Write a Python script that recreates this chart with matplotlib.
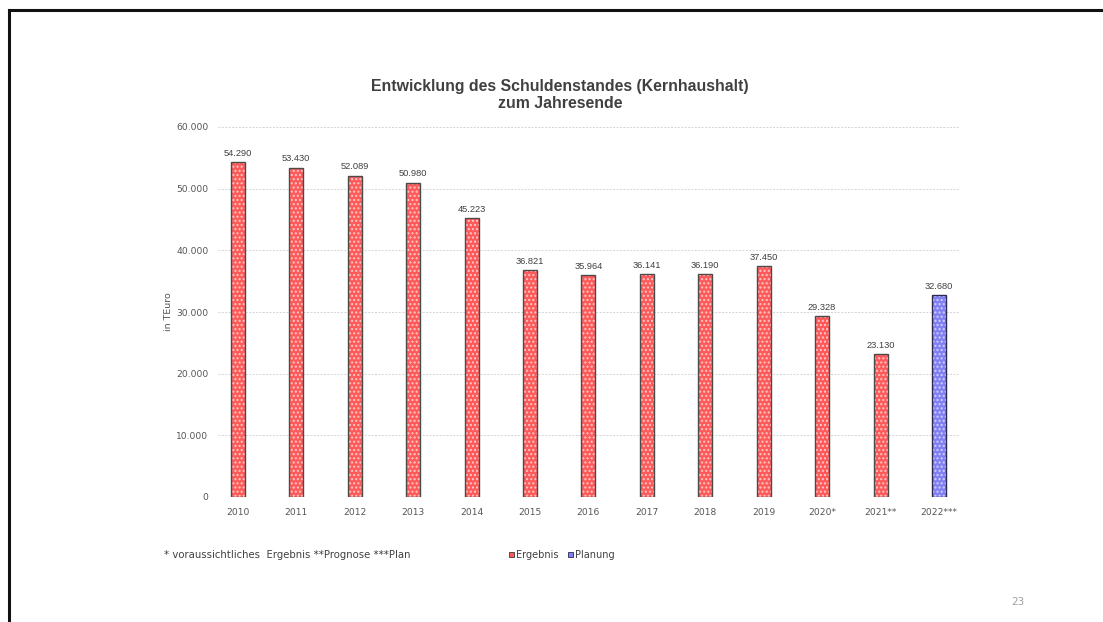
import matplotlib
matplotlib.use("Agg")
import matplotlib.pyplot as plt
from matplotlib.lines import Line2D
from matplotlib.patches import Patch
import numpy as np

plt.rcParams['font.family'] = ['DejaVu Sans']

# Schuldenstand zum Jahresende in TEuro
jahre = ["2010", "2011", "2012", "2013", "2014", "2015", "2016", "2017",
         "2018", "2019", "2020*", "2021**", "2022***"]
ergebnis = [54290, 53430, 52089, 50980, 45223, 36821, 35964, 36141,
            36190, 37450, 29328, 23130, np.nan]
planung = [np.nan] * 12 + [32680]

fig = plt.figure(figsize=(11.03, 6.22), dpi=100)
W, H = 1103, 622

# Rahmen der Folie (oben und links)
fig.add_artist(Line2D([8.5 / W, 1], [1 - 9.5 / H, 1 - 9.5 / H], color="#111111", lw=2.2))
fig.add_artist(Line2D([8.5 / W, 8.5 / W], [0, 1 - 9.5 / H], color="#111111", lw=2.2))

ax = fig.add_axes([218 / W, 1 - 497 / H, (960 - 218) / W, (497 - 127) / H])
x = np.arange(len(jahre))
bw = 0.24


def balken(werte, farbe, punkte, rand):
    ax.bar(x, werte, width=bw, color=farbe, edgecolor=punkte, hatch="....",
           linewidth=0, zorder=2)
    ax.bar(x, werte, width=bw, fill=False, edgecolor=rand, linewidth=1.0, zorder=3)


balken(ergebnis, "#ff5a5a", "#ffc8c8", "#4a4a4a")
balken(planung, "#8080f0", "#d0d0ff", "#2a2a50")

for i in range(len(jahre)):
    v = ergebnis[i] if not np.isnan(ergebnis[i]) else planung[i]
    ax.text(x[i], v + 700, f"{v:,.0f}".replace(",", "."), ha="center", va="bottom",
            fontsize=6.7, color="#404040", family="Liberation Sans")

ax.set_ylim(0, 60000)
ax.set_xlim(-0.34, 12.36)
ax.set_yticks(np.arange(0, 60001, 10000))
ax.set_yticklabels([f"{t:,}".replace(",", ".") for t in range(0, 60001, 10000)])
ax.set_xticks(x)
ax.set_xticklabels(jahre)
ax.tick_params(axis="both", length=0, labelsize=6.6, labelcolor="#555555")
ax.tick_params(axis="x", pad=8)
ax.tick_params(axis="y", pad=7)
ax.grid(axis="y", color="#d4d4d4", linestyle=(0, (2, 1.5)), linewidth=0.7, zorder=0)
for s in ax.spines.values():
    s.set_visible(False)
ax.set_ylabel("in TEuro", fontsize=6.8, color="#555555", labelpad=2)

fig.text(560 / W, 1 - 87 / H, "Entwicklung des Schuldenstandes (Kernhaushalt)",
         ha="center", va="center", fontsize=11.4, fontweight="bold", color="#404040",
         family="Liberation Sans")
fig.text(560 / W, 1 - 103 / H, "zum Jahresende",
         ha="center", va="center", fontsize=11.4, fontweight="bold", color="#404040",
         family="Liberation Sans")

fig.text(164 / W, 1 - 555 / H, "* voraussichtliches  Ergebnis **Prognose ***Plan",
         ha="left", va="center", fontsize=7.3, color="#404040")

handles = [Patch(facecolor="#ff5a5a", edgecolor="#3a3a3a", linewidth=0.6),
           Patch(facecolor="#8080f0", edgecolor="#2a2a50", linewidth=0.6)]
fig.legend(handles, ["Ergebnis", "Planung"], loc="center left",
           bbox_to_anchor=(500 / W, 1 - 555 / H), ncol=2, frameon=False,
           fontsize=7, handlelength=0.5, handleheight=0.5, handletextpad=0.2,
           columnspacing=1.0, labelcolor="#404040")

fig.text(1018 / W, 1 - 602 / H, "23", ha="center", va="center", fontsize=7.5, color="#a0a0a0")

fig.savefig("out.png", dpi=100)
